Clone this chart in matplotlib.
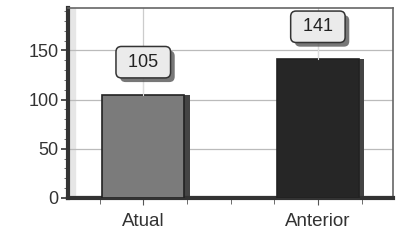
import matplotlib.pyplot as plt
import matplotlib.patheffects as pe
import numpy as np

plt.rcParams['font.family'] = ['Liberation Sans', 'DejaVu Sans']

categories = ['Atual', 'Anterior']
values = [105, 141]
bar_colors = ['#7b7b7b', '#262626']

fig = plt.figure(figsize=(4.01, 2.45), dpi=100)
ax = fig.add_axes([0.17, 0.192, 0.81, 0.775])

x = np.arange(len(categories))
width = 0.47

# shadow behind the bars for a little depth
ax.bar(x + 0.03, values, width, bottom=0, color='#444444', zorder=2)
bars = ax.bar(x, values, width, color=bar_colors, edgecolor='#222222', linewidth=1.2, zorder=3)

for xi, v in zip(x, values):
    ax.plot([xi, xi], [v, v + 24], color='#dddddd', lw=0.8, zorder=4)
    t = ax.annotate(f' {v} ', xy=(xi, v), xytext=(xi, v + 33), ha='center', va='center',
                    fontsize=13, color='#222222', zorder=5,
                    bbox=dict(boxstyle='round,pad=0.4,rounding_size=0.3', fc='#ebebeb', ec='#333333', lw=1.1))
    t.get_bbox_patch().set_path_effects([pe.SimplePatchShadow(offset=(3, -3), shadow_rgbFace='#555555', alpha=0.8),
                                         pe.Normal()])

ax.set_xlim(-0.43, 1.43)
ax.set_ylim(0, 193)
ax.set_xticks(x)
ax.set_xticklabels(categories, fontsize=13.5, color='#333333')
ax.set_xticks(np.arange(-0.25, 1.5, 0.25), minor=True)
ax.set_yticks([0, 50, 100, 150])
ax.set_yticks(np.arange(0, 191, 10), minor=True)
ax.tick_params(axis='y', labelsize=13, labelcolor='#333333', length=5, width=1.2, color='#333333', pad=2)
ax.tick_params(axis='y', which='minor', length=3, color='#555555')
ax.tick_params(axis='x', length=5, color='#555555', pad=6)
ax.tick_params(axis='x', which='minor', length=4, color='#555555')

ax.grid(axis='y', color='#bbbbbb', lw=0.9, zorder=0)
ax.axvline(0, color='#cccccc', lw=0.9, zorder=0)
ax.axvline(1, color='#cccccc', lw=0.9, zorder=0)

# side wall of the pseudo-3D frame
ax.axvspan(-0.43, -0.39, color='#e6e6e6', zorder=1)
ax.axhspan(0, 2.5, color='#dddddd', zorder=1)

ax.spines['left'].set_linewidth(3)
ax.spines['left'].set_color('#333333')
ax.spines['bottom'].set_linewidth(3)
ax.spines['bottom'].set_color('#333333')
ax.spines['top'].set_color('#666666')
ax.spines['right'].set_color('#666666')
ax.spines['top'].set_linewidth(1.2)
ax.spines['right'].set_linewidth(1.2)

fig.savefig('out.png', dpi=100)
